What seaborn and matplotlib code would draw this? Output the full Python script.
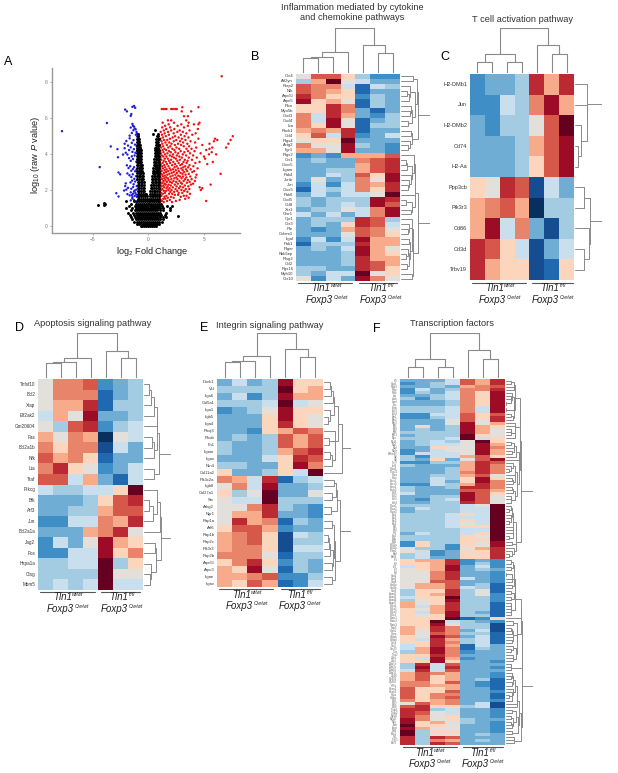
"""
Multi-panel figure: volcano plot plus five clustered heatmaps.
"""

import matplotlib
matplotlib.use("Agg")
import matplotlib.pyplot as plt
import numpy as np
import pandas as pd
import seaborn as sns
from matplotlib.colors import ListedColormap

W, H = 618, 773

# ---- panel A values, one list of log2FC per -log10 p level ----
BLACK_LEVELS = {
    0.00: [-0.72, -0.55, -0.38, -0.2, 0.0, 0.18, 0.35, 0.52, 0.7],
    0.10: [-1.0, -0.82, -0.64, -0.46, -0.28, -0.1, 0.08, 0.26, 0.44, 0.62, 0.8, 0.98],
    0.22: [-1.3, -1.05, -0.87, -0.69, -0.5, -0.32, -0.14, 0.04, 0.22, 0.4, 0.58, 0.76, 0.94, 1.25],
    0.35: [-1.5, -1.15, -0.95, -0.77, -0.59, -0.41, -0.23, -0.05, 0.13, 0.31, 0.49, 0.67, 0.85, 1.05, 1.35],
    0.48: [-1.62, -1.2, -1.0, -0.82, -0.64, -0.46, -0.28, -0.1, 0.08, 0.26, 0.44, 0.62, 0.8, 1.0, 1.28, 1.6],
    0.60: [-1.7, -1.3, -1.05, -0.87, -0.69, -0.51, -0.33, -0.15, 0.03, 0.21, 0.39, 0.57, 0.75, 0.93, 1.1, 1.45],
    0.72: [-1.85, -1.4, -1.1, -0.92, -0.74, -0.56, -0.38, -0.2, -0.02, 0.16, 0.34, 0.52, 0.7, 0.88, 1.08, 1.55],
    0.85: [-1.6, -1.2, -1.0, -0.82, -0.64, -0.46, -0.28, -0.1, 0.08, 0.26, 0.44, 0.62, 0.8, 1.0, 1.3, 1.9],
    0.98: [-2.0, -1.5, -1.15, -0.95, -0.77, -0.59, -0.41, -0.23, -0.05, 0.13, 0.31, 0.49, 0.67, 0.85, 1.05, 1.35],
    1.10: [-1.75, -1.25, -1.0, -0.82, -0.64, -0.46, -0.28, -0.12, 0.1, 0.26, 0.44, 0.62, 0.8, 0.98, 1.2, 1.65],
    1.22: [-1.55, -1.1, -0.93, -0.75, -0.57, -0.39, -0.22, -0.08, 0.08, 0.22, 0.4, 0.58, 0.76, 0.94, 1.15],
    1.35: [-1.3, -1.0, -0.84, -0.66, -0.48, -0.3, -0.14, 0.02, 0.14, 0.32, 0.5, 0.68, 0.86, 0.98],
    1.48: [-0.98, -0.82, -0.64, -0.46, -0.28, -0.1, 0.08, 0.26, 0.44, 0.62, 0.8, 0.96],
    1.62: [-0.98, -0.82, -0.64, -0.46, -0.28, -0.14, 0.12, 0.28, 0.44, 0.62, 0.8, 0.97],
    1.78: [-0.98, -0.82, -0.66, -0.5, -0.34, -0.22, 0.16, 0.3, 0.46, 0.62, 0.8, 0.98],
    1.94: [-0.98, -0.84, -0.68, -0.52, -0.38, 0.16, 0.3, 0.46, 0.62, 0.8, 0.98],
    2.10: [-0.99, -0.84, -0.68, -0.54, -0.4, 0.2, 0.34, 0.5, 0.66, 0.82, 0.98],
    2.26: [-0.99, -0.85, -0.7, -0.56, -0.42, 0.24, 0.38, 0.52, 0.68, 0.84, 0.98],
    2.42: [-0.99, -0.85, -0.71, -0.57, -0.45, 0.28, 0.42, 0.56, 0.7, 0.84, 0.98],
    2.58: [-1.0, -0.86, -0.72, -0.6, -0.48, 0.32, 0.44, 0.58, 0.72, 0.86, 0.98],
    2.74: [-1.0, -0.87, -0.74, -0.62, -0.5, 0.35, 0.48, 0.6, 0.74, 0.86, 0.99],
    2.90: [-1.0, -0.88, -0.76, -0.64, -0.54, 0.38, 0.5, 0.62, 0.76, 0.88, 0.99],
    3.06: [-1.0, -0.89, -0.78, -0.67, -0.57, 0.42, 0.54, 0.66, 0.78, 0.89, 0.99],
    3.22: [-1.0, -0.9, -0.79, -0.69, -0.6, 0.45, 0.57, 0.68, 0.79, 0.9, 0.99],
    3.38: [-1.0, -0.91, -0.81, -0.71, -0.62, 0.48, 0.6, 0.7, 0.81, 0.91, 0.99],
    3.54: [-1.0, -0.91, -0.82, -0.73, -0.65, 0.5, 0.62, 0.72, 0.82, 0.91],
    3.70: [-1.0, -0.92, -0.83, -0.74, -0.67, 0.54, 0.64, 0.74, 0.84, 0.92],
    3.86: [-1.0, -0.92, -0.84, -0.76, -0.69, 0.56, 0.66, 0.76, 0.85, 0.93],
    4.02: [-1.0, -0.93, -0.85, -0.77, -0.7, 0.58, 0.68, 0.78, 0.86, 0.94],
    4.18: [-1.0, -0.93, -0.86, -0.78, -0.72, 0.6, 0.7, 0.8, 0.88, 0.95],
    4.34: [-1.0, -0.93, -0.86, -0.8, -0.74, 0.62, 0.72, 0.82, 0.9],
    4.50: [-1.0, -0.94, -0.87, -0.8, 0.66, 0.76, 0.86, 0.93],
    4.66: [-1.0, -0.94, -0.88, -0.82, 0.68, 0.78, 0.88],
    4.82: [-1.0, -0.94, -0.88, 0.72, 0.82, 0.92],
    4.98: [-0.98, -0.92, 0.78, 0.9],
    5.10: [-0.96, 0.4, 0.85],
    5.30: [0.62],
}
BLACK_OUTLIERS_X = [-4.55, -4.05, -4.0, -3.95, 2.7, 1.9, 2.1, -2.0]
BLACK_OUTLIERS_Y = [1.12, 1.27, 1.15, 1.22, 0.55, 1.0, 1.1, 1.35]

BLUE_X = [-7.8, -3.75, -2.1, -1.95, -1.6, -1.55, -1.45, -1.3, -1.2, -4.4, -3.4, -2.8, -2.75, -2.7, -2.55,
          -2.9, -2.7, -2.1, -2.0, -2.2, -1.9, -1.7, -1.6, -1.45, -1.3, -1.15, -1.05, -2.15, -2.05, -1.9,
          -1.75, -1.6, -1.5, -1.4, -1.25, -1.1, -1.02, -1.95, -1.8, -1.65, -1.55, -1.4, -1.3, -1.2, -1.08,
          -2.3, -2.15, -2.0, -1.85, -1.7, -1.5, -1.35, -1.22, -1.05, -1.75, -1.6, -1.45, -1.32, -1.18, -1.03,
          -1.9, -1.72, -1.55, -1.42, -1.28, -1.12, -1.02, -1.62, -1.48, -1.34, -1.2, -1.06, -2.05, -1.85, -1.55,
          -1.38, -1.24, -1.1, -1.7, -1.5, -1.36, -1.14, -1.03, -1.6, -1.4, -1.25, -1.08, -1.45, -1.3, -1.15,
          -1.03, -1.6, -1.5, -1.38, -1.25, -1.1, -1.45, -1.3, -1.18, -1.05]
BLUE_Y = [5.25, 5.7, 6.45, 6.35, 6.1, 6.2, 6.6, 6.65, 6.55, 3.25, 4.4, 4.25, 3.8, 2.95, 2.85,
          1.8, 1.62, 2.2, 2.0, 1.95, 1.75, 1.68, 1.4, 1.5, 1.42, 1.35, 1.3, 4.3, 4.05, 3.95,
          3.75, 3.6, 3.85, 3.7, 3.9, 3.55, 3.65, 3.35, 3.2, 3.3, 3.05, 3.15, 3.25, 3.02, 3.12,
          3.95, 4.55, 4.7, 4.45, 4.85, 4.6, 4.75, 4.5, 4.4, 4.2, 4.35, 4.1, 4.25, 4.05, 4.15,
          2.9, 2.8, 2.7, 2.85, 2.6, 2.75, 2.55, 2.4, 2.5, 2.3, 2.45, 2.2, 2.35, 2.1, 2.05,
          2.15, 1.95, 2.0, 5.0, 5.15, 5.3, 5.05, 4.95, 5.45, 5.55, 5.4, 5.2, 5.65, 5.5, 5.35,
          5.1, 1.85, 1.7, 1.78, 1.65, 1.72, 1.58, 1.9, 1.82, 1.6]

RED_LEVELS = {
    1.31: [1.04, 1.37, 2.12], 1.37: [1.21, 1.68, 2.47, 5.2], 1.43: [1.09, 1.93, 2.81], 1.49: [1.33, 1.52, 3.31],
    1.55: [1.02, 1.74, 2.26, 3.62], 1.6: [1.44, 2.03, 2.91], 1.66: [1.17, 1.61, 3.18, 3.43], 1.71: [1.06, 2.38, 2.67],
    1.77: [1.29, 1.85, 2.14, 3.74], 1.82: [1.12, 1.48, 2.72, 3.05], 1.88: [1.01, 1.96, 2.31, 3.51],
    1.93: [1.38, 1.57, 2.59, 3.22], 1.98: [1.14, 1.79, 2.08, 2.97, 4.72], 2.03: [1.26, 2.44, 3.36, 3.68],
    2.08: [1.05, 1.63, 1.9, 2.76, 4.85], 2.13: [1.41, 2.19, 3.11, 4.61], 2.18: [1.18, 1.72, 2.53, 2.86, 3.59],
    2.23: [1.03, 1.34, 2.01, 3.27], 2.28: [1.55, 1.82, 2.37, 3.82, 5.6], 2.33: [1.11, 1.46, 2.64, 3.02, 4.02],
    2.38: [1.27, 2.11, 2.93, 3.46], 2.43: [1.07, 1.66, 1.94, 2.49, 3.71], 2.48: [1.36, 2.25, 2.79, 3.17, 4.18],
    2.53: [1.02, 1.53, 1.81, 3.55], 2.58: [1.22, 2.06, 2.61, 3.29, 3.89], 2.63: [1.43, 1.75, 2.33, 2.98],
    2.68: [1.09, 1.6, 2.51, 3.41, 4.25], 2.73: [1.31, 1.98, 2.84, 3.12, 3.77], 2.78: [1.04, 1.49, 2.18, 2.69],
    2.83: [1.24, 1.7, 2.42, 3.34, 4.33], 2.88: [1.13, 1.88, 3.06, 3.63, 6.5], 2.93: [1.39, 2.09, 2.57, 2.89],
    2.98: [1.01, 1.58, 2.28, 3.21, 3.95], 3.03: [1.19, 1.77, 2.74, 3.49, 4.12], 3.08: [1.45, 2.0, 2.46, 3.08],
    3.13: [1.08, 1.63, 2.2, 3.38, 3.8], 3.18: [1.3, 1.91, 2.66, 2.95, 4.42], 3.24: [1.06, 1.51, 2.35, 3.14, 3.58],
    3.3: [1.23, 1.8, 2.54, 3.31, 4.05], 3.36: [1.42, 2.13, 2.87, 3.69], 3.42: [1.1, 1.67, 2.4, 3.03, 5.3],
    3.48: [1.28, 1.95, 2.72, 3.44, 4.22], 3.54: [1.03, 1.56, 2.24, 3.16, 4.6, 5.8], 3.6: [1.37, 1.86, 2.6, 3.52],
    3.66: [1.15, 2.04, 2.83, 3.27, 3.92], 3.72: [1.47, 1.74, 2.47, 5.1], 3.78: [1.07, 2.3, 3.0, 3.63, 4.35],
    3.84: [1.33, 1.62, 2.11, 2.78, 5.0], 3.9: [1.2, 1.92, 2.56, 3.39, 4.02], 3.96: [1.5, 2.21, 3.09, 5.45, 6.1],
    4.02: [1.11, 1.71, 2.68, 3.74, 4.7], 4.08: [1.35, 2.01, 2.43, 3.23, 5.7], 4.14: [1.06, 1.84, 2.9, 3.56, 4.15],
    4.2: [1.27, 1.59, 2.33, 5.2], 4.27: [1.44, 2.15, 2.77, 3.43, 3.88, 5.5], 4.34: [1.13, 1.78, 2.52, 4.3, 5.75, 7.0],
    4.41: [1.32, 1.97, 3.18, 3.66], 4.48: [1.05, 1.65, 2.38, 2.94, 4.85], 4.55: [1.25, 2.07, 2.66, 3.5, 5.5, 7.2],
    4.62: [1.53, 1.87, 3.12, 4.2], 4.69: [1.17, 2.28, 2.85, 3.79, 5.9], 4.76: [1.4, 1.69, 2.5, 3.33, 6.2, 7.4],
    4.83: [1.08, 1.93, 3.0, 4.5, 6.0], 4.9: [1.3, 2.18, 2.71, 3.6], 4.97: [1.56, 2.4, 3.25, 7.6],
    5.05: [1.21, 1.83, 2.92, 3.95], 5.13: [1.45, 2.27, 3.41, 4.25], 5.21: [1.1, 1.76, 2.6, 3.1],
    5.29: [1.38, 2.05, 2.81, 3.7], 5.37: [1.6, 2.33, 4.45], 5.46: [1.24, 1.95, 3.2], 5.55: [1.5, 2.62, 3.55],
    5.63: [1.82, 2.96, 4.1, 4.5], 5.72: [1.28, 2.3, 3.62, 4.6], 5.85: [1.75, 2.05, 3.4],
    6.08: [3.55, 3.2], 6.35: [3.0, 3.85],
    6.48: [1.2, 1.35, 1.5, 1.62, 2.05, 2.2, 2.4, 2.55],
    6.58: [3.05, 4.5],
    8.30: [6.6],
}

# ---- heatmap values, one row per gene ----
GENES_B = ["Ccr4", "Atf2yn", "Rxrp2", "Nfk", "Arpc5l", "Arpc5", "Ptcn", "Myo5b", "Cxcl3", "Cxcl4", "Lta",
           "Rock1", "Ccl4", "Ptgs4", "Actg2", "Ifgr1", "Ptgs2", "Ccr1", "Cxxc5", "Itgam", "Pak4", "Junb", "Jun",
           "Cxcr5", "Pak6", "Cxcl5", "Ccl8", "Xcr1", "Ctsr1", "Cyr1", "Ccr3", "Pte", "Cxfam1", "Itgal", "Pak1",
           "Ptger", "Rbb5ep", "Ptsg2", "Ccl2", "Rgs16", "Myh10", "Ccr10"]
VALUES_B = [
    [0, 4, 4, 1, -2, -4, -4], [-2, 2, 7, 0, -1, -3, -3], [4, 3, 3, -1, -5, -1, -2], [4, 3, 2, 1, -5, -3, -3],
    [5, 3, 1, 1, -4, -2, -3], [6, 1, 2, 0, -5, -2, -3], [1, 1, 5, 3, -5, -2, -3], [1, 1, 5, 3, -3, -5, -3],
    [3, -1, 5, 2, -3, -4, -2], [3, -1, 6, 0, -5, -3, -2], [3, 1, 6, 0, -5, -2, -2], [2, 3, 2, 5, -5, -3, -3],
    [1, 4, -1, 5, -4, -3, -1], [0, 1, 1, 7, -3, -3, -3], [3, 0, 0, 6, -2, -3, -4], [2, 2, 0, 6, -3, -3, -4],
    [-4, -3, -4, 2, 2, 2, 4], [-3, -2, -3, -3, 3, 4, 5], [-3, -3, -3, -3, 2, 4, 5], [-3, -3, -2, -2, 2, 4, 5],
    [-3, -3, -1, -2, 4, 1, 6], [-3, 0, -3, -2, 3, 0, 6], [-4, -1, -4, -1, 3, 2, 5], [-5, -1, -2, -1, 3, 1, 5],
    [-3, -1, -3, -1, -1, 0, 7], [-2, -3, -2, -2, -2, 6, 5], [-2, -3, -2, -1, -2, 6, 4], [-3, -2, -2, 0, -1, 3, 6],
    [-1, -3, -1, -3, -1, 3, 6], [-3, -2, -2, -2, 5, 4, -2], [-3, -2, -3, 1, 5, 4, -1], [-3, -4, -3, 2, 4, 3, 0],
    [-3, -3, -3, 0, 4, 3, 1], [-4, -1, -4, -1, 6, 2, 2], [-5, -2, -2, -2, 5, 2, 2], [-3, -2, -3, -1, 6, 2, 0],
    [-3, -3, -3, -2, 6, 2, 1], [-3, -3, -3, -2, 5, 2, 2], [-3, -3, -3, -2, 5, 4, 2], [-2, -2, -3, -3, 5, 4, 1],
    [-2, -3, -1, -1, 7, 0, 1], [0, -4, -1, -3, 6, 3, 0],
]

GENES_C = ["H2-DMb1", "Jun", "H2-DMb2", "Cd74", "H2-Aa", "Ppp3cb", "Pik3r3", "Cd86", "Cd3d", "Trbv19"]
VALUES_C = [
    [-4, -3, -3, -2, 5, 2, 5], [-4, -4, -1, -2, 3, 6, 2], [-3, -4, -2, -2, 0, 4, 7], [-3, -3, -3, -2, 2, 4, 6],
    [-3, -3, -3, -2, 1, 4, 6], [1, 0, 5, 4, -6, -1, -3], [2, 3, 4, 2, -7, -2, -2], [2, 6, -1, 3, -3, -6, -2],
    [5, 4, 1, -1, -6, -3, -1], [5, 2, 1, 1, -6, -5, 1],
]

GENES_D = ["Tnfsf10", "Bcl2", "Xiap", "Eif2ak2", "Gm20604", "Fas", "Bcl2a1b", "Nfk", "Lta", "Traf", "Prkcg",
           "Bfk", "Atf3", "Jun", "Bcl2a1a", "Jag2", "Fos", "Hspa1a", "Ctsg", "Mbm5"]
VALUES_D = [
    [0, 3, 3, 4, -4, -3, -2], [0, 3, 3, 3, -5, -3, -2], [0, 2, 2, 5, -5, -2, -2], [-1, 2, 0, 6, -3, -3, -2],
    [0, -2, 4, 5, -4, -2, -1], [2, 0, 3, 2, -7, 0, -1], [3, 1, 3, 3, -6, -1, -3], [4, 2, 3, 1, -5, -3, -3],
    [3, 5, 1, 0, -4, -3, -1], [4, 4, -1, 2, -3, -5, -1], [-1, -2, -2, -1, -1, 1, 7], [-3, -3, -3, -2, 1, 4, 5],
    [-3, -3, -2, -2, 2, 4, 4], [-4, -4, -1, -1, 3, 2, 5], [-3, -3, -3, 2, 3, 5, 0], [-4, -1, -3, 0, 6, 2, 1],
    [-4, -4, -1, -1, 6, 1, 3], [-2, -2, -1, -1, 7, -2, 1], [-2, -2, -2, -2, 7, 0, 0], [-2, -1, -2, -1, 7, -1, -1],
]

GENES_E = ["Dock1", "Vcl", "Itga6", "Col5a1", "Itga1", "Itgb5", "Itga4", "Rhoj3", "Rhob", "Fn1", "Itgam", "Itgax",
           "Ntn4", "Col11a2", "Pik3c2a", "Itgb8", "Col27a1", "Src", "Arhg2", "Ngr1", "Rap1a", "Arf6", "Rap1b",
           "Rap2c", "Pik3r3", "Rap2b", "Arpc5l", "Arpc3", "Itgae", "Itgav"]
VALUES_E = [
    [-3, -1, -3, -2, 6, 1, 1], [-2, -2, -2, -2, 7, 1, 2], [-3, -1, -4, -2, 6, 2, 2], [-2, -2, -2, -1, 7, -1, 0],
    [-4, -3, -2, 0, 6, 1, 1], [-3, -3, -3, 1, 6, 1, 0], [-3, -3, -3, 1, 5, 1, 0], [-3, -3, -4, 1, 2, 4, 3],
    [-3, -2, -3, -2, 4, 2, 4], [-2, -3, -3, -2, 4, 2, 4], [-2, -3, -3, -2, 2, 4, 5], [-3, -3, -3, -1, 1, 5, 4],
    [-2, -2, -3, -3, 1, 6, 3], [1, -3, -3, -2, 1, -1, 7], [3, 2, -1, 5, -5, -2, -1], [0, 3, -1, 6, -3, -3, -2],
    [1, -2, 0, 7, -3, -3, 0], [0, -1, -1, 7, -2, -2, -2], [0, 0, 3, 5, -2, -3, -4], [0, 2, 2, 5, -3, -3, -4],
    [0, 5, 2, 3, -5, -2, -3], [1, 4, 4, 2, -4, -3, -3], [2, 3, 4, 1, -6, -1, -2], [2, 3, 4, 1, -6, -2, -2],
    [2, 3, 3, 1, -6, -1, -1], [3, 3, 3, 0, -5, -2, -2], [1, 3, 5, 1, -4, -2, -3], [2, 1, 6, 0, -5, -2, -3],
    [2, 2, 3, 4, -4, -4, -2], [2, 1, 4, 2, -5, -4, -1],
]

GENES_F = ["Irf5", "Stat1", "Nfkb1", "Rela", "Relb", "Jun", "Junb", "Jund", "Fos", "Fosb", "Atf3", "Atf4", "Egr1",
           "Egr2", "Egr3", "Klf2", "Klf4", "Klf6", "Klf13", "Myc", "Mxd1", "Mxi1", "Maf", "Mafb", "Bhlhe40", "Id2",
           "Id3", "Tcf7", "Lef1", "Gata3", "Tbx21", "Rora", "Rorc", "Foxo1", "Foxo3", "Foxp1", "Foxp3", "Ikzf1",
           "Ikzf2", "Ikzf3", "Ikzf4", "Runx1", "Runx2", "Runx3", "Ets1", "Ets2", "Etv3", "Etv5", "Elf1", "Elf4",
           "Fli1", "Spi1", "Spib", "Bcl6", "Bcl11a", "Bcl11b", "Prdm1", "Batf", "Batf3", "Irf1", "Irf2", "Irf4",
           "Irf7", "Irf8", "Stat2", "Stat3", "Stat4", "Stat5a", "Stat5b", "Stat6", "Smad2", "Smad3", "Smad4",
           "Smad7", "Nr4a1", "Nr4a2", "Nr4a3", "Nr3c1", "Nfatc1", "Nfatc2", "Nfatc3", "Nfat5", "Creb1", "Crem",
           "Cebpb", "Cebpd", "Sox4", "Sox5", "Sox13", "Tox", "Tox2", "Zeb1", "Zeb2", "Zbtb7a", "Zbtb7b", "Zbtb16",
           "Zbtb32", "Zfp36", "Zfp281", "Zfp366", "Hif1a", "Hivep1", "Hivep2", "Hopx", "Helios", "E2f1", "E2f2",
           "E2f8", "Tfdp1", "Tfdp2", "Mybl1", "Mybl2", "Myb", "Ahr", "Arnt", "Nfil3", "Xbp1", "Yy1", "Tgif1", "Pbx3"]
VALUES_F = [
    [-3, -3, -3, -1, 4, 2, 5], [-4, -3, -2, -1, 4, 2, 5], [-3, -3, -2, -3, 2, 3, 4], [-4, -1, -3, -2, 3, 3, 5],
    [-4, -2, -3, -1, 3, 1, 6], [-3, -3, -2, -1, 3, 1, 6], [-2, -4, -2, -1, 3, 1, 6], [-3, -3, -3, -2, 3, 1, 6],
    [-3, -3, -3, -2, 3, 1, 6], [-2, -2, -2, -1, 3, -1, 6], [-2, -2, -2, -1, 3, -1, 6], [-4, -4, -1, -1, 4, 1, 4],
    [-4, -4, -2, -1, 4, 1, 5], [-3, -3, -3, 0, 4, 0, 5], [-3, -3, -3, 0, 6, 0, 2], [-3, 1, -3, -2, 6, 2, 1],
    [-3, -2, -3, -2, 6, 2, 0], [-2, -2, -2, -2, 6, 2, 0], [-3, -2, -2, -2, 7, 1, 0], [-2, -2, -2, -1, 7, -1, 1],
    [-3, -2, -1, -2, 0, 7, 1], [-3, -2, -1, -1, 0, 6, 2], [-3, -3, 1, 0, 0, 6, 3], [-4, -3, -1, 0, 0, 6, 2],
    [-4, -1, -1, -1, 0, 6, 2], [-2, -4, -1, -1, 2, 4, 1], [-2, -3, 1, -3, 0, 4, 6], [-4, -4, -2, -2, 2, 5, 4],
    [-2, -3, -3, -3, 2, 5, 3], [-3, -3, -3, -2, 2, 5, 3], [-3, -3, -3, -2, 3, 5, 3], [-3, -3, -2, -2, 2, 4, 0],
    [-3, -3, -1, -2, 1, 6, 1], [-3, -3, -1, -3, 1, 6, 3], [-4, -4, -1, -2, 2, 5, 3], [-2, -3, -3, -2, 5, 5, 3],
    [-2, -3, -3, -3, 4, 4, 2], [-1, -3, -3, -3, 6, 4, 1], [-3, -3, -2, -2, 6, 4, 0], [-3, -4, -2, -1, 6, 4, 0],
    [-3, -3, -2, -2, 5, 4, 0], [-2, -2, -2, -2, -1, 0, 7], [-3, -1, -2, -2, -1, -1, 7], [-3, -2, -2, -2, -1, -1, 7],
    [-2, -2, -2, -1, 1, -1, 7], [-2, -2, -2, -1, -1, -1, 7], [-2, -2, -2, -1, 1, -1, 7], [-2, -2, -2, -1, 0, -1, 7],
    [-2, -2, -2, -1, 1, 1, 7], [-2, -2, -2, -2, -1, -1, 7], [-3, -1, -2, -2, -1, 1, 7], [-2, -2, -2, -2, 1, 0, 7],
    [-2, -2, -2, -2, 1, 1, 7], [-4, 1, -2, -2, 1, 0, 6], [-4, 1, -2, -4, 1, 0, 6], [0, -2, -2, -4, 0, 2, 5],
    [0, -1, -4, -3, 1, 1, 5], [-2, -1, -4, -3, 1, 1, 5], [-2, -1, -3, -3, 1, 1, 5], [1, 2, 2, 5, -4, -3, -4],
    [1, 1, 2, 5, -4, -2, -4], [-1, 1, 2, 6, -3, -1, -4], [0, 1, 2, 6, -3, -2, -3], [0, 0, 3, 5, -3, -3, -4],
    [0, 0, 3, 5, -3, -3, -4], [0, 0, 3, 5, -1, -3, -4], [0, 0, 4, 4, -3, -3, -4], [0, 2, 2, 4, -3, -2, -5],
    [0, 2, 2, 4, -1, -2, -5], [-2, 1, 1, 5, -2, 0, -5], [-2, 1, 2, 5, -2, 0, -4], [-1, 1, 1, 7, -2, -2, -4],
    [-2, 0, 1, 6, -2, -2, -4], [2, 0, 1, 5, -2, -2, -5], [2, -1, 2, 5, -2, -2, -5], [1, 0, 2, 5, -2, -2, -5],
    [1, -1, 2, 6, -2, -3, -5], [1, 0, 1, 6, -2, -2, -5], [1, 1, 1, 7, -5, -4, 1], [1, 1, 7, -1, -2, -3, -4],
    [1, 1, 6, 0, -2, -2, -6], [2, 1, 5, 3, -2, -2, -6], [2, 0, 5, 3, -3, -1, -6], [2, 0, 4, 3, -2, -2, -5],
    [1, 0, 6, 4, -3, -1, -5], [1, -1, 5, 2, -2, -1, -5], [1, 1, 5, 3, -2, -1, -5], [-1, 1, 5, 2, -5, -1, -3],
    [-1, 2, 6, 3, -5, -2, -3], [-2, 2, 6, 3, -4, -3, -3], [1, 1, 5, 3, -3, -3, -3], [1, -1, 6, 2, -4, -3, -3],
    [1, 1, 6, 1, -3, -3, -4], [-2, 5, -1, 4, -3, -3, -3], [-2, 6, -1, 5, -3, -3, -4], [-1, 5, -1, 4, -3, -3, -3],
    [2, 4, 3, 2, -3, -3, -4], [2, 4, 1, 2, -3, -3, -4], [2, 4, 1, 2, -3, -2, -5], [3, 3, 1, 4, -3, -4, -5],
    [3, 3, 2, 2, -3, -4, -5], [4, 1, 1, 2, -3, -3, -5], [4, 1, 1, 4, -3, -3, -4], [4, 1, 3, 3, -3, -3, -5],
    [4, 1, 3, 4, -3, -3, -5], [3, 1, 2, 3, -3, -3, -4], [0, 4, 2, 3, -3, -1, -6], [4, 5, 1, 1, -2, -1, -6],
    [5, 5, -2, -1, -3, -3, -4], [5, 4, 0, -1, -3, -3, -4], [5, 3, 0, 1, -3, -3, -4], [6, 3, 0, 1, -2, -3, -3],
    [6, 1, 2, 0, -2, -3, -4], [7, 1, 1, 0, -3, -3, -4], [6, 2, 0, 0, -3, -3, -4], [7, -2, 1, 1, -3, -3, -4],
    [7, -2, 0, 0, -3, -2, -3], [5, -2, 5, 4, -3, -3, -3], [5, -2, 3, 2, -3, -2, -3], [5, -2, 5, 4, -3, -3, -3],
]

# column trees: (merge height, left, right), leaves are column numbers
TREE_B = (1.0, (0.47, (0.35, (0.33, 0, 1), 2), 3), (0.62, 4, (0.44, 5, 6)))
TREE_C = (1.0, (0.417, (0.227, 0, 1), (0.227, 2, 3)), (0.63, 4, (0.417, 5, 6)))
TREE_D = (1.0, (0.45, (0.35, (0.33, 0, 1), 2), 3), (0.61, 4, (0.44, 5, 6)))
TREE_E = (1.0, (0.49, (0.37, (0.356, 0, 1), 2), 3), (0.636, 4, (0.455, 5, 6)))
TREE_F = (1.0, (0.417, (0.227, 0, 1), (0.227, 2, 3)), (0.62, 4, (0.417, 5, 6)))

LEVEL_COLORS = ["#07305f", "#154d90", "#2069b0", "#3f8fc6", "#70add4", "#a3cce3", "#c9dfed", "#e3dfdb",
                "#fcd5bd", "#f8ab8a", "#e8846a", "#d6584a", "#bb2a33", "#9c0c26", "#650020"]
LINE_GRAY = "#8a8a8a"

sns.set_style("white")
plt.rcParams["font.family"] = ["Liberation Sans", "DejaVu Sans"]
plt.rcParams["mathtext.fontset"] = "custom"
plt.rcParams["mathtext.rm"] = "Liberation Sans"
plt.rcParams["mathtext.it"] = "Liberation Sans:italic"
plt.rcParams["mathtext.default"] = "regular"

fig = plt.figure(figsize=(W / 100, H / 100), dpi=100)
renderer = fig.canvas.get_renderer()


def px_axes(x0, y0, x1, y1):
    return fig.add_axes([x0 / W, 1 - y1 / H, (x1 - x0) / W, (y1 - y0) / H])


def px_text(x, y, s, **kw):
    kw.setdefault("ha", "center")
    kw.setdefault("va", "center")
    return fig.text(x / W, 1 - y / H, s, **kw)


def px_line(x0, x1, y):
    fig.add_artist(plt.Line2D([x0 / W, x1 / W], [1 - y / H] * 2, color="#555555", lw=0.8))


def super_label(x, y, main, sup):
    """Italic name with a much smaller superscript, centred on x as one piece."""
    t1 = px_text(x, y, main, fontsize=7.0, style="italic", color="#222222", ha="left")
    t2 = px_text(x, y - 2.5, sup, fontsize=3.6, style="italic", color="#222222", ha="left")
    w1 = t1.get_window_extent(renderer).width
    w2 = t2.get_window_extent(renderer).width
    left = x - (w1 + w2 + 0.5) / 2
    t1.set_x(left / W)
    t2.set_x((left + w1 + 0.5) / W)


def draw_col_tree(ax, node):
    if not isinstance(node, tuple):
        return node + 0.5, 0.0
    h, left, right = node
    xl, hl = draw_col_tree(ax, left)
    xr, hr = draw_col_tree(ax, right)
    ax.plot([xl, xl, xr, xr], [hl, h, h, hr], color=LINE_GRAY, lw=0.8)
    return (xl + xr) / 2, h


def draw_row_tree(ax, matrix):
    """Merge neighbouring rows by average distance, so the row order stays as it is."""
    mat = np.asarray(matrix, dtype=float)
    clusters = [{"rows": [i], "pos": i + 0.5, "h": 0.0} for i in range(len(mat))]
    segments = []
    while len(clusters) > 1:
        dists = []
        for a, b in zip(clusters[:-1], clusters[1:]):
            pair = np.linalg.norm(mat[a["rows"]][:, None, :] - mat[b["rows"]][None, :, :], axis=2)
            dists.append(pair.mean())
        i = int(np.argmin(dists))
        a, b = clusters[i], clusters[i + 1]
        h = max(dists[i], a["h"], b["h"])
        segments.append(([a["h"], h, h, b["h"]], [a["pos"], a["pos"], b["pos"], b["pos"]]))
        clusters[i:i + 2] = [{"rows": a["rows"] + b["rows"], "pos": (a["pos"] + b["pos"]) / 2, "h": h}]
    root = clusters[0]["h"]
    for xs, ys in segments:
        ax.plot([(v / root) ** 0.75 for v in xs], ys, color=LINE_GRAY, lw=0.7)
    ax.set_xlim(0, 1)
    ax.set_ylim(len(mat), 0)
    ax.axis("off")


def heat_panel(box, values, genes, tree, tree_top, tree_right, label_size, label_color="#333333"):
    x0, y0, x1, y1 = box
    ax = px_axes(x0, y0, x1, y1)
    sns.heatmap(
        pd.DataFrame(values, index=genes), ax=ax, cmap=ListedColormap(LEVEL_COLORS),
        vmin=-7.5, vmax=7.5, cbar=False, xticklabels=False, yticklabels=list(genes), linewidths=0,
    )
    ax.set_ylabel("")
    ax.tick_params(axis="y", length=0, pad=2, labelsize=label_size, labelcolor=label_color, labelrotation=0)

    top_ax = px_axes(x0, tree_top, x1, y0 - 1.5)
    draw_col_tree(top_ax, tree)
    top_ax.set_xlim(0, 7)
    top_ax.set_ylim(0, 1.01)
    top_ax.axis("off")

    right_ax = px_axes(x1 + 1, y0, tree_right, y1)
    draw_row_tree(right_ax, values)


def group_labels(left_x, right_x, y1, y2, left_span, right_span, line_y):
    px_line(*left_span, line_y)
    px_line(*right_span, line_y)
    super_label(left_x, y1, "Tln1", "wt/wt")
    super_label(right_x, y1, "Tln1", "fl/fl")
    super_label(left_x, y2, "Foxp3", "Cre/wt")
    super_label(right_x, y2, "Foxp3", "Cre/wt")


# ---- A: volcano ----
rows = []
for y, xs in BLACK_LEVELS.items():
    rows += [("ns", x, y) for x in xs]
rows += [("ns", x, y) for x, y in zip(BLACK_OUTLIERS_X, BLACK_OUTLIERS_Y)]
rows += [("down", x, y) for x, y in zip(BLUE_X, BLUE_Y)]
for y, xs in RED_LEVELS.items():
    rows += [("up", x, y) for x in xs]
volcano = pd.DataFrame(rows, columns=["group", "fc", "p"])

ax_a = px_axes(52, 68, 240, 233)
sns.scatterplot(
    data=volcano[volcano.group != "ns"], x="fc", y="p", hue="group",
    palette={"up": "#f01010", "down": "#2020d8"}, s=3.0, linewidth=0, legend=False, ax=ax_a,
)
sns.scatterplot(data=volcano[volcano.group == "ns"], x="fc", y="p", color="black", s=4.5, linewidth=0, ax=ax_a)
ax_a.set_xlim(-8.7, 8.25)
ax_a.set_ylim(-0.41, 8.76)
ax_a.set_xticks([-5, 0, 5])
ax_a.set_yticks([0, 2, 4, 6, 8])
ax_a.tick_params(labelsize=3.5, labelcolor="#777777", length=1.5, width=0.5, color="#888888", pad=1.5,
                 left=True, bottom=True)
ax_a.set_xlabel("")
ax_a.set_ylabel("")
sns.despine(ax=ax_a)
for side in ("left", "bottom"):
    ax_a.spines[side].set_color("#999999")
    ax_a.spines[side].set_linewidth(1.0)
px_text(152, 252, r"log$_{2}$ Fold Change", fontsize=6.6, color="#222222")
px_text(36, 155, r"log$_{10}$ (raw $\mathit{P}$ value)", fontsize=6.7, color="#222222", rotation=90)

# ---- heatmaps ----
heat_panel((296, 74, 400, 281), VALUES_B, GENES_B, TREE_B, 28, 430, 3.0)
heat_panel((470, 74, 574, 280), VALUES_C, GENES_C, TREE_C, 28, 602, 4.0)
heat_panel((38, 379, 143, 590), VALUES_D, GENES_D, TREE_D, 333, 171, 3.3)
heat_panel((217, 379, 323, 587), VALUES_E, GENES_E, TREE_E, 333, 351, 3.0)
heat_panel((400, 379, 505, 745), VALUES_F, GENES_F, TREE_F, 333, 533, 1.9, label_color="#666666")

group_labels(327, 381, 288, 300, (298, 352), (359, 397), 283)
group_labels(500, 553, 288, 300, (472, 526), (532, 573), 283)
group_labels(68, 122, 597, 609, (40, 95), (101, 140), 592)
group_labels(247, 300, 595, 606, (219, 273), (281, 320), 589)
group_labels(430, 483, 753, 764, (403, 457), (463, 503), 747)

# ---- titles and panel letters ----
TITLE_COLOR = "#333333"
TITLE_SIZE = 6.7
px_text(352, 7, "Inflammation mediated by cytokine", fontsize=TITLE_SIZE, color=TITLE_COLOR)
px_text(352, 18, "and chemokine pathways", fontsize=TITLE_SIZE, color=TITLE_COLOR)
px_text(523, 20, "T cell activation pathway", fontsize=TITLE_SIZE, color=TITLE_COLOR)
px_text(93, 324, "Apoptosis signaling pathway", fontsize=TITLE_SIZE, color=TITLE_COLOR)
px_text(270, 325, "Integrin signaling pathway", fontsize=TITLE_SIZE, color=TITLE_COLOR)
px_text(452, 324, "Transcription factors", fontsize=TITLE_SIZE, color=TITLE_COLOR)

for letter, x, y in (("A", 8, 62), ("B", 255, 57), ("C", 445, 57), ("D", 20, 328), ("E", 204, 328), ("F", 377, 329)):
    px_text(x, y, letter, fontsize=9, color="black")

fig.savefig("out.png", dpi=100)
